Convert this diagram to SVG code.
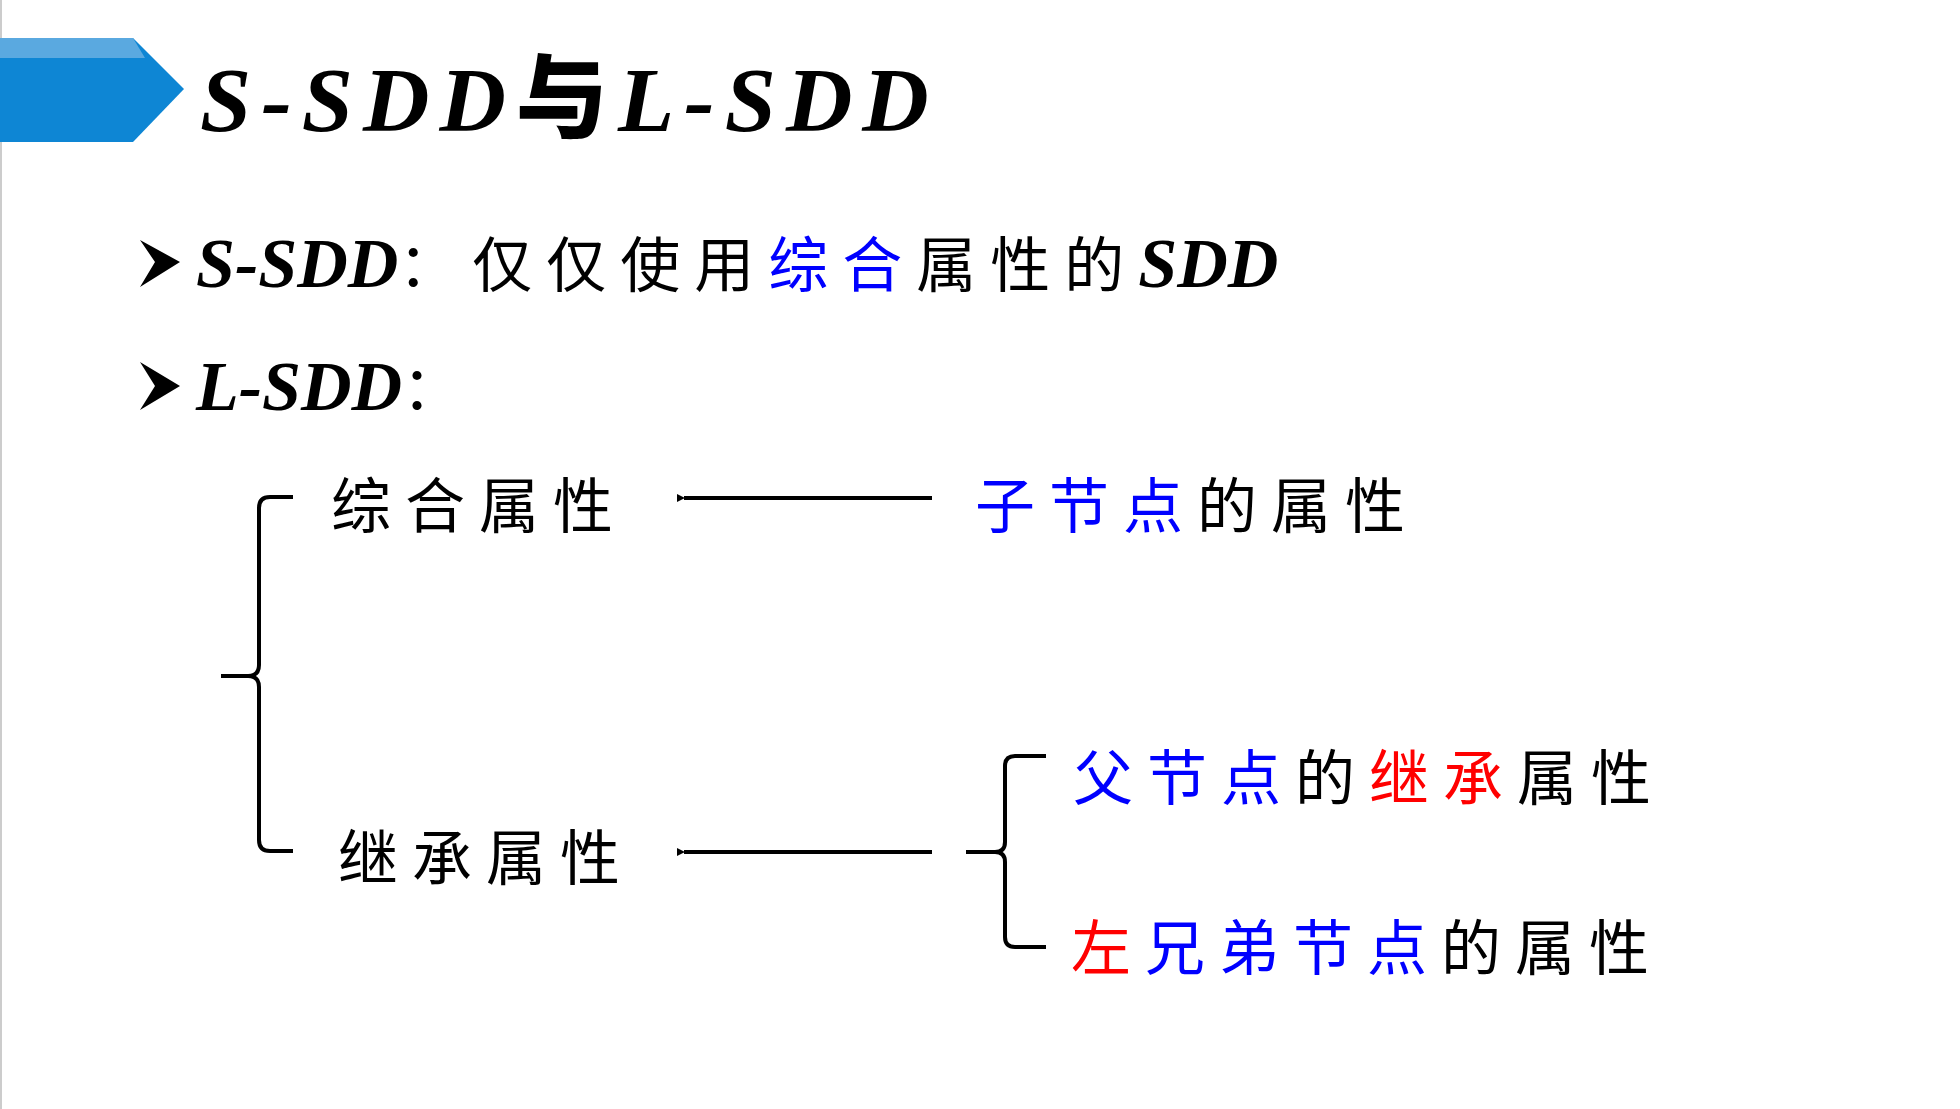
<svg xmlns="http://www.w3.org/2000/svg" width="1960" height="1109" viewBox="0 0 1960 1109">
<style>
.t{font-family:"Liberation Serif","Noto Sans CJK SC",serif;font-style:italic;font-weight:bold;fill:#000}
.c{font-family:"Noto Sans CJK SC",sans-serif;font-size:60px;letter-spacing:14px;fill:#000}
.b{fill:#0000ff}.r{fill:#ff0000}
.ln{fill:none;stroke:#000;stroke-width:4}
</style>
<defs><marker id="ah" markerWidth="8" markerHeight="8" refX="1" refY="4" orient="auto" markerUnits="userSpaceOnUse" viewBox="0 0 8 8"><path d="M8,0 L0,4 L8,8 Z" fill="#000"/></marker></defs>
<rect width="1960" height="1109" fill="#fff"/>
<line x1="1" y1="0" x2="1" y2="1109" stroke="#ccc" stroke-width="2"/>
<g id="banner">
<polygon points="0,38 133,38 184,89 133,142 0,142" fill="#0e86d4"/>
<polygon points="0,38 133,38 145,58 0,58" fill="#5aa9e0"/>
</g>
<text id="title" class="t" x="200" y="131" font-size="92" letter-spacing="10">S-SDD<tspan font-style="normal" font-family="Noto Sans CJK SC,sans-serif" font-weight="900">与</tspan>L-SDD</text>
<g id="bullet1">
<polygon points="140,240 180,262 140,287 155,262" fill="#000"/>
<text class="t" x="196" y="287" font-size="70">S-SDD<tspan class="c" font-style="normal" font-weight="normal" font-size="62">：仅仅使用<tspan class="b">综合</tspan>属性的</tspan>SDD</text>
</g>
<g id="bullet2">
<polygon points="140,362 180,386 140,410 155,386" fill="#000"/>
<text class="t" x="196" y="410" font-size="70">L-SDD<tspan class="c" font-style="normal" font-weight="normal" font-size="62">：</tspan></text>
</g>
<g id="n-syn"><text class="c" x="331" y="528">综合属性</text></g>
<g id="n-child"><text class="c" x="975" y="528"><tspan class="b">子节点</tspan>的属性</text></g>
<g id="n-inh"><text class="c" x="338" y="880">继承属性</text></g>
<g id="n-parent"><text class="c" x="1073" y="800"><tspan class="b">父节点</tspan>的<tspan class="r">继承</tspan>属性</text></g>
<g id="n-sib"><text class="c" x="1071" y="970"><tspan class="r">左</tspan><tspan class="b">兄弟节点</tspan>的属性</text></g>
<g id="connectors">
<line class="ln" x1="932" y1="498" x2="684" y2="498" marker-end="url(#ah)"/>
<line class="ln" x1="932" y1="852" x2="684" y2="852" marker-end="url(#ah)"/>
<path class="ln" d="M293,497 H270 Q259,497 259,508 V665 Q259,676 248,676 H221 M248,676 Q259,676 259,687 V840 Q259,851 270,851 H293"/>
<path class="ln" d="M1046,756 H1015 Q1005,756 1005,766 V842 Q1005,852 995,852 H966 M995,852 Q1005,852 1005,862 V937 Q1005,947 1015,947 H1046"/>
</g>
</svg>
